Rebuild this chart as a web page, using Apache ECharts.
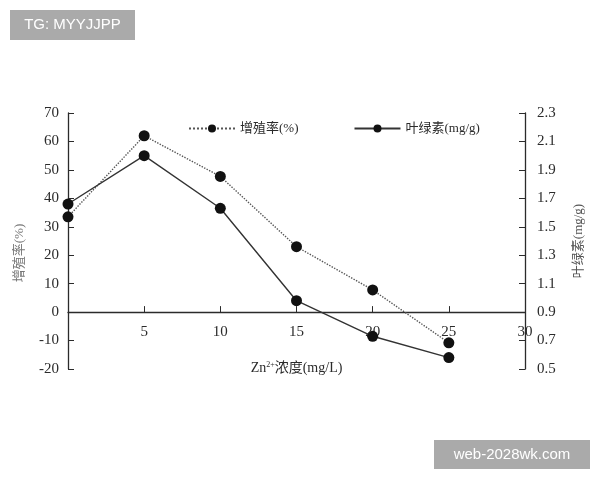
<!DOCTYPE html>
<html>
<head>
    <meta charset="utf-8">
    <title>Zn2+ 浓度与增殖率、叶绿素</title>
    <script src="https://cdn.jsdelivr.net/npm/echarts@6/dist/echarts.min.js"></script>
    <style>
        html, body { margin: 0; padding: 0; background: #fff; }
        #main { width: 600px; height: 480px; }
    </style>
</head>
<body>
<div id="main"></div>
<script type="text/javascript">
    // Zn2+ 浓度 (mg/L)
    var zn = [0, 5, 10, 15, 20, 25];
    // 增殖率 (%) - 左轴
    var growth = [33.5, 62, 47.7, 23, 7.8, -10.8];
    // 叶绿素 (mg/g) - 右轴
    var chloro = [1.66, 2.0, 1.63, 0.98, 0.73, 0.58];

    var serif = '"Liberation Serif", "DejaVu Serif", "Noto Sans CJK SC", serif';
    var ink = '#2b2b2b';

    function pairs(xs, ys) {
        var out = [];
        for (var i = 0; i < xs.length; i++) out.push([xs[i], ys[i]]);
        return out;
    }

    var myChart = echarts.init(document.getElementById('main'));
    var option = {
        backgroundColor: '#fff',
        animation: false,
        grid: { left: 68, right: 75, top: 113, bottom: 111 },
        legend: {
            left: 183,
            top: 117,
            itemWidth: 46,
            itemHeight: 10,
            itemGap: 55,
            textStyle: { fontFamily: serif, fontSize: 13, color: ink },
            data: ['增殖率(%)', '叶绿素(mg/g)']
        },
        xAxis: {
            type: 'value',
            min: 0, max: 30, interval: 5,
            name: '{a|Zn}{s|2+}{a|浓度(mg/L)}',
            nameLocation: 'middle',
            nameGap: -8,
            nameTextStyle: {
                rich: {
                    a: { fontFamily: serif, fontSize: 14, color: ink },
                    s: { fontFamily: serif, fontSize: 8, color: ink, padding: [0, 0, 7, 0] }
                }
            },
            axisLine: { onZero: true, onZeroAxisIndex: 0, lineStyle: { color: ink, width: 1.3 } },
            axisTick: { inside: true, length: 6, lineStyle: { color: ink } },
            axisLabel: {
                margin: -44,
                fontFamily: serif, fontSize: 15, color: ink,
                formatter: function (v) { return v === 0 ? '' : v; }
            },
            splitLine: { show: false }
        },
        yAxis: [
            {
                type: 'value',
                min: -20, max: 70, interval: 10,
                name: '增殖率(%)',
                nameLocation: 'middle',
                nameRotate: 90,
                nameGap: 42,
                nameTextStyle: { fontFamily: serif, fontSize: 13, color: '#777', padding: [0, 24, 0, 0] },
                axisLine: { show: true, lineStyle: { color: ink, width: 1.3 } },
                axisTick: { show: true, inside: true, length: 6, lineStyle: { color: ink } },
                axisLabel: { margin: 9, fontFamily: serif, fontSize: 15, color: ink },
                splitLine: { show: false }
            },
            {
                type: 'value',
                min: 0.5, max: 2.3, interval: 0.2,
                position: 'right',
                name: '叶绿素(mg/g)',
                nameLocation: 'middle',
                nameRotate: 90,
                nameGap: 47,
                nameTextStyle: { fontFamily: serif, fontSize: 13, color: '#555' },
                axisLine: { show: true, lineStyle: { color: ink, width: 1.3 } },
                axisTick: { show: true, inside: true, length: 6, lineStyle: { color: ink } },
                axisLabel: {
                    margin: 12, fontFamily: serif, fontSize: 15, color: ink,
                    formatter: function (v) { return v.toFixed(1); }
                },
                splitLine: { show: false }
            }
        ],
        series: [
            {
                name: '增殖率(%)',
                type: 'line',
                yAxisIndex: 0,
                data: pairs(zn, growth),
                symbol: 'circle',
                symbolSize: 11,
                itemStyle: { color: '#111' },
                lineStyle: { color: '#555', width: 1.4, type: 'dotted' }
            },
            {
                name: '叶绿素(mg/g)',
                type: 'line',
                yAxisIndex: 1,
                data: pairs(zn, chloro),
                symbol: 'circle',
                symbolSize: 11,
                itemStyle: { color: '#111' },
                lineStyle: { color: '#333', width: 1.4 }
            }
        ],
        graphic: [
            {
                type: 'group', left: 10, top: 10,
                children: [
                    { type: 'rect', shape: { x: 0, y: 0, width: 125, height: 30 }, style: { fill: '#aaa' } },
                    { type: 'text', x: 62.5, y: 15, style: { text: 'TG: MYYJJPP', fill: '#fff', font: '15px "Liberation Sans", Arial, sans-serif', align: 'center', verticalAlign: 'middle' } }
                ]
            },
            {
                type: 'group', left: 434, top: 440,
                children: [
                    { type: 'rect', shape: { x: 0, y: 0, width: 156, height: 29 }, style: { fill: '#aaa' } },
                    { type: 'text', x: 78, y: 14.5, style: { text: 'web-2028wk.com', fill: '#fff', font: '15px "Liberation Sans", Arial, sans-serif', align: 'center', verticalAlign: 'middle' } }
                ]
            }
        ]
    };
    myChart.setOption(option);
</script>
</body>
</html>
